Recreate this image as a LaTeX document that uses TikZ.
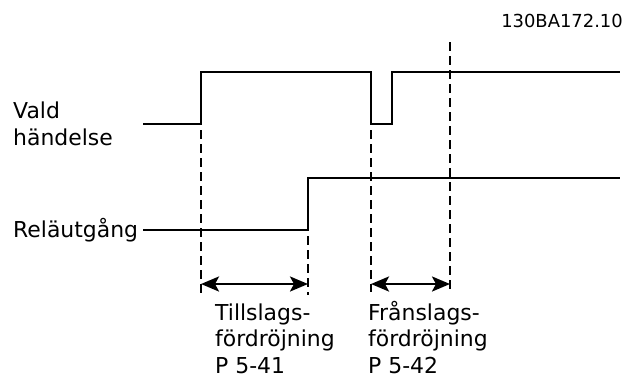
\documentclass[tikz,border=0pt]{standalone}
\usepackage{fontspec}
\setmainfont{DejaVu Sans}
\usetikzlibrary{arrows.meta}

\begin{document}
\begin{tikzpicture}[x=1bp,y=-1bp,
	signal/.style={line width=2.6bp},
	guide/.style={line width=1.8bp,dash pattern=on 9bp off 5bp},
	delay/.style={line width=2.6bp,{Stealth[length=18bp,width=15bp,inset=4bp]}-{Stealth[length=18bp,width=15bp,inset=4bp]}},
	lbl/.style={anchor=base west,inner sep=0pt,align=left,font=\fontsize{22}{26.5}\selectfont}]
			\useasboundingbox (0,0) rectangle (636,378);
			% selected event
			\coordinate (ev0) at (143,124); \coordinate (ev1) at (201,124); \coordinate (ev2) at (201,72);
			\coordinate (ev3) at (371,72); \coordinate (ev4) at (371,124); \coordinate (ev5) at (392,124);
			\coordinate (ev6) at (392,72); \coordinate (ev7) at (620,72);
			\draw[signal] (ev0) -- (ev1) -- (ev2) -- (ev3) -- (ev4) -- (ev5) -- (ev6) -- (ev7);
			% relay output
			\coordinate (ro0) at (143,230); \coordinate (ro1) at (308,230); \coordinate (ro2) at (308,178);
			\coordinate (ro3) at (620,178);
			\draw[signal] (ro0) -- (ro1) -- (ro2) -- (ro3);
			% guide lines
			\coordinate (g1t) at (201,130); \coordinate (g1b) at (201,295);
			\coordinate (g2t) at (308,236); \coordinate (g2b) at (308,295);
			\coordinate (g3t) at (371,130); \coordinate (g3b) at (371,292);
			\coordinate (g4t) at (450,42);  \coordinate (g4b) at (450,290);
			\draw[guide] (g1t) -- (g1b); \draw[guide] (g2t) -- (g2b);
			\draw[guide] (g3t) -- (g3b); \draw[guide] (g4t) -- (g4b);
			% delays
			\coordinate (on0) at (201,284); \coordinate (on1) at (308,284);
			\coordinate (off0) at (371,284); \coordinate (off1) at (450,284);
			\draw[delay] (on0) -- (on1);
			\draw[delay] (off0) -- (off1);
			% labels (base = last line)
			\node[lbl] (vald) at (13,145) {Vald\\händelse};
			\node[lbl] (rel) at (13,237) {Reläutgång};
			\node[lbl] (ontext) at (215,373) {Tillslags-\\fördröjning\\P 5-41};
			\node[lbl] (offtext) at (368,373) {Frånslags-\\fördröjning\\P 5-42};
			\node[anchor=base east,inner sep=0pt,font=\fontsize{18}{20}\selectfont] (code) at (623,27) {130BA172.10};
		\end{tikzpicture}
\end{document}
